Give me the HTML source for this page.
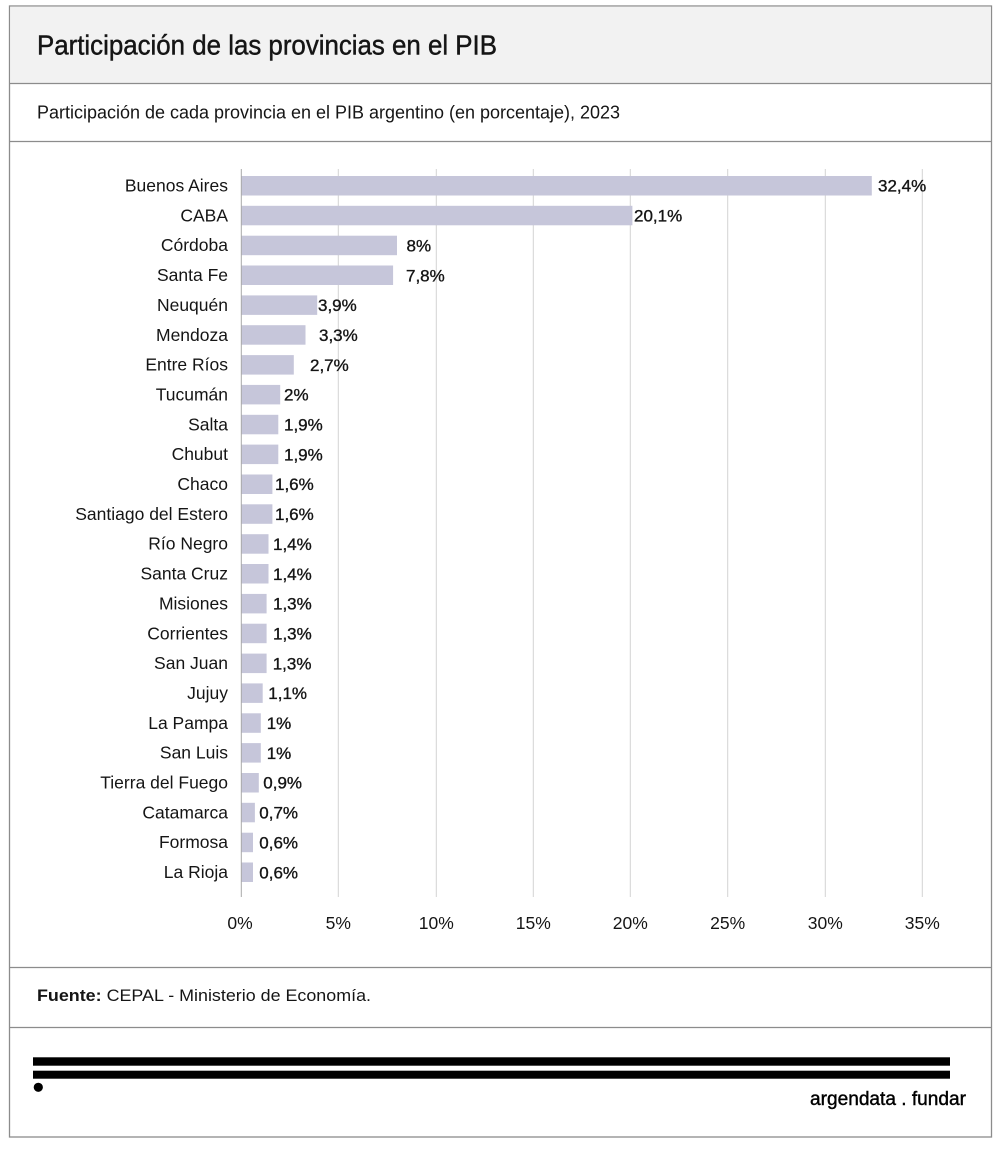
<!DOCTYPE html>
<html>
<head>
<meta charset="utf-8">
<style>
  html,body{margin:0;padding:0;background:#fff;}
  svg{display:block;}
  text{font-family:"Liberation Sans","DejaVu Sans",sans-serif;fill:#151515;}
  .cat{font-size:17.5px;text-anchor:end;}
  .val{font-size:17px;stroke:#151515;stroke-width:0.35px;}
  .tick{font-size:17.5px;text-anchor:middle;}
</style>
</head>
<body>
<svg width="1000" height="1149" viewBox="0 0 1000 1149" xmlns="http://www.w3.org/2000/svg">
  <!-- frame -->
  <rect x="9.5" y="6" width="982" height="1131" fill="#fff" stroke="#8c8c8c" stroke-width="1.3"/>
  <rect x="10.2" y="6.7" width="980.6" height="76.6" fill="#f2f2f2"/>
  <line x1="9.5" y1="83.5" x2="991.5" y2="83.5" stroke="#8c8c8c" stroke-width="1.3"/>
  <line x1="9.5" y1="141.5" x2="991.5" y2="141.5" stroke="#8c8c8c" stroke-width="1.3"/>
  <line x1="9.5" y1="967.5" x2="991.5" y2="967.5" stroke="#8c8c8c" stroke-width="1.3"/>
  <line x1="9.5" y1="1027.5" x2="991.5" y2="1027.5" stroke="#8c8c8c" stroke-width="1.3"/>

  <!-- title -->
  <text x="37" y="54.5" font-size="28" textLength="460" lengthAdjust="spacingAndGlyphs" style="stroke:#151515;stroke-width:0.45px;">Participación de las provincias en el PIB</text>
  <text x="37" y="118.5" font-size="18" textLength="583" lengthAdjust="spacingAndGlyphs">Participación de cada provincia en el PIB argentino (en porcentaje), 2023</text>

  <!-- gridlines -->
  <g stroke="#d3d3d3" stroke-width="1">
    <line x1="338.3" y1="169" x2="338.3" y2="897"/>
    <line x1="436.3" y1="169" x2="436.3" y2="897"/>
    <line x1="533.3" y1="169" x2="533.3" y2="897"/>
    <line x1="630.3" y1="169" x2="630.3" y2="897"/>
    <line x1="727.7" y1="169" x2="727.7" y2="897"/>
    <line x1="825.3" y1="169" x2="825.3" y2="897"/>
    <line x1="922.3" y1="169" x2="922.3" y2="897"/>
  </g>

  <!-- bars -->
  <g fill="#c6c6da">
    <rect x="241.3" y="176.0" width="630.5" height="19.5"/>
    <rect x="241.3" y="205.8" width="391.1" height="19.5"/>
    <rect x="241.3" y="235.7" width="155.7" height="19.5"/>
    <rect x="241.3" y="265.5" width="151.8" height="19.5"/>
    <rect x="241.3" y="295.4" width="75.9" height="19.5"/>
    <rect x="241.3" y="325.2" width="64.2" height="19.5"/>
    <rect x="241.3" y="355.1" width="52.5" height="19.5"/>
    <rect x="241.3" y="384.9" width="38.9" height="19.5"/>
    <rect x="241.3" y="414.8" width="37.0" height="19.5"/>
    <rect x="241.3" y="444.6" width="37.0" height="19.5"/>
    <rect x="241.3" y="474.5" width="31.1" height="19.5"/>
    <rect x="241.3" y="504.3" width="31.1" height="19.5"/>
    <rect x="241.3" y="534.2" width="27.2" height="19.5"/>
    <rect x="241.3" y="564.0" width="27.2" height="19.5"/>
    <rect x="241.3" y="593.9" width="25.3" height="19.5"/>
    <rect x="241.3" y="623.7" width="25.3" height="19.5"/>
    <rect x="241.3" y="653.6" width="25.3" height="19.5"/>
    <rect x="241.3" y="683.4" width="21.4" height="19.5"/>
    <rect x="241.3" y="713.3" width="19.5" height="19.5"/>
    <rect x="241.3" y="743.1" width="19.5" height="19.5"/>
    <rect x="241.3" y="773.0" width="17.5" height="19.5"/>
    <rect x="241.3" y="802.8" width="13.6" height="19.5"/>
    <rect x="241.3" y="832.7" width="11.7" height="19.5"/>
    <rect x="241.3" y="862.5" width="11.7" height="19.5"/>
  </g>

  <!-- zero axis -->
  <line x1="241.3" y1="169" x2="241.3" y2="897" stroke="#a8a8a8" stroke-width="1"/>

  <!-- category labels -->
  <g>
    <text class="cat" x="228" y="191.5">Buenos Aires</text>
    <text class="cat" x="228" y="221.4">CABA</text>
    <text class="cat" x="228" y="251.2">Córdoba</text>
    <text class="cat" x="228" y="281.1">Santa Fe</text>
    <text class="cat" x="228" y="310.9">Neuquén</text>
    <text class="cat" x="228" y="340.8">Mendoza</text>
    <text class="cat" x="228" y="370.6">Entre Ríos</text>
    <text class="cat" x="228" y="400.5">Tucumán</text>
    <text class="cat" x="228" y="430.3">Salta</text>
    <text class="cat" x="228" y="460.2">Chubut</text>
    <text class="cat" x="228" y="490.0">Chaco</text>
    <text class="cat" x="228" y="519.9">Santiago del Estero</text>
    <text class="cat" x="228" y="549.7">Río Negro</text>
    <text class="cat" x="228" y="579.6">Santa Cruz</text>
    <text class="cat" x="228" y="609.4">Misiones</text>
    <text class="cat" x="228" y="639.3">Corrientes</text>
    <text class="cat" x="228" y="669.1">San Juan</text>
    <text class="cat" x="228" y="699.0">Jujuy</text>
    <text class="cat" x="228" y="728.8">La Pampa</text>
    <text class="cat" x="228" y="758.7">San Luis</text>
    <text class="cat" x="228" y="788.5">Tierra del Fuego</text>
    <text class="cat" x="228" y="818.4">Catamarca</text>
    <text class="cat" x="228" y="848.2">Formosa</text>
    <text class="cat" x="228" y="878.1">La Rioja</text>
  </g>

  <!-- value labels -->
  <g>
    <text class="val" x="878" y="191.7">32,4%</text>
    <text class="val" x="634" y="221.6">20,1%</text>
    <text class="val" x="406.5" y="251.4">8%</text>
    <text class="val" x="406" y="281.3">7,8%</text>
    <text class="val" x="318" y="311.1">3,9%</text>
    <text class="val" x="319" y="341.0">3,3%</text>
    <text class="val" x="310" y="370.8">2,7%</text>
    <text class="val" x="284" y="400.7">2%</text>
    <text class="val" x="284" y="430.5">1,9%</text>
    <text class="val" x="284" y="460.4">1,9%</text>
    <text class="val" x="275" y="490.2">1,6%</text>
    <text class="val" x="275" y="520.1">1,6%</text>
    <text class="val" x="273" y="549.9">1,4%</text>
    <text class="val" x="273" y="579.8">1,4%</text>
    <text class="val" x="273" y="609.6">1,3%</text>
    <text class="val" x="273" y="639.5">1,3%</text>
    <text class="val" x="272.7" y="669.3">1,3%</text>
    <text class="val" x="268.3" y="699.2">1,1%</text>
    <text class="val" x="266.7" y="729.0">1%</text>
    <text class="val" x="266.7" y="758.9">1%</text>
    <text class="val" x="263.3" y="788.7">0,9%</text>
    <text class="val" x="259.3" y="818.6">0,7%</text>
    <text class="val" x="259.3" y="848.4">0,6%</text>
    <text class="val" x="259.3" y="878.3">0,6%</text>
  </g>

  <!-- tick labels -->
  <g>
    <text class="tick" x="240" y="929">0%</text>
    <text class="tick" x="338.3" y="929">5%</text>
    <text class="tick" x="436.3" y="929">10%</text>
    <text class="tick" x="533.3" y="929">15%</text>
    <text class="tick" x="630.3" y="929">20%</text>
    <text class="tick" x="727.7" y="929">25%</text>
    <text class="tick" x="825.3" y="929">30%</text>
    <text class="tick" x="922.3" y="929">35%</text>
  </g>

  <!-- source -->
  <text x="37" y="1001" font-size="16.5" textLength="334" lengthAdjust="spacingAndGlyphs"><tspan font-weight="bold">Fuente:</tspan> CEPAL - Ministerio de Economía.</text>

  <!-- logo -->
  <rect x="33" y="1057.3" width="917" height="8.4" fill="#000"/>
  <rect x="33" y="1070.7" width="917" height="8" fill="#000"/>
  <circle cx="38.3" cy="1087.3" r="4.6" fill="#000"/>
  <text x="810" y="1105" font-size="19" textLength="156" lengthAdjust="spacingAndGlyphs" style="fill:#000;stroke:#000;stroke-width:0.4px;">argendata . fundar</text>
</svg>
</body>
</html>
